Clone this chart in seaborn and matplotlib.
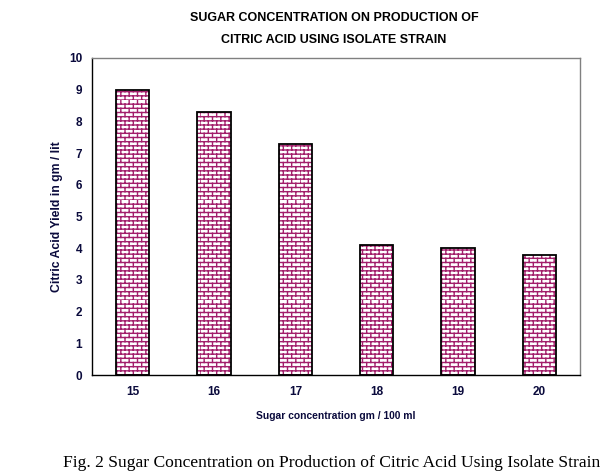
import numpy as np
import pandas as pd
import matplotlib
matplotlib.use('Agg')
import matplotlib.pyplot as plt
import matplotlib.hatch as mhatch
from matplotlib.path import Path
from matplotlib.patches import Rectangle
import seaborn as sns

# data
sugar = ['15', '16', '17', '18', '19', '20']
citric_yield = [9.0, 8.3, 7.3, 4.1, 4.0, 3.8]

title_lines = ['SUGAR CONCENTRATION ON PRODUCTION OF',
               'CITRIC ACID USING ISOLATE STRAIN']
xlabel = 'Sugar concentration gm / 100 ml'
ylabel = 'Citric Acid Yield in gm / lit'
caption = 'Fig. 2 Sugar Concentration on Production of Citric Acid Using Isolate Strain'

brick_color = '#A21F6B'
text_color = '#0A0A3C'


# brick wall hatch, used in place of the normal '+' hatch
class BrickHatch(mhatch.HatchPatternBase):
    def __init__(self, hatch, density):
        self.num_rows = int(hatch.count('+') * density)
        self.num_cols = self.num_rows // 2
        self.num_vertices = 2 * self.num_rows + 2 * self.num_rows * self.num_cols

    def set_vertices_and_codes(self, vertices, codes):
        n, m = self.num_rows, self.num_cols
        h = 1.0 / n
        k = 0
        for i in range(n):
            y = i * h
            vertices[k] = (0.0, y)
            vertices[k + 1] = (1.0, y)
            codes[k] = Path.MOVETO
            codes[k + 1] = Path.LINETO
            k += 2
        for i in range(n):
            off = 0.5 / m if i % 2 else 0.0
            for j in range(m):
                x = j / m + off
                vertices[k] = (x, i * h)
                vertices[k + 1] = (x, (i + 1) * h)
                codes[k] = Path.MOVETO
                codes[k + 1] = Path.LINETO
                k += 2


mhatch._hatch_types[:] = [BrickHatch]

sns.set_style('white')
plt.rcParams['font.family'] = ['Liberation Sans', 'DejaVu Sans']
plt.rcParams['hatch.linewidth'] = 1.0

df = pd.DataFrame({'sugar': sugar, 'yield': citric_yield})

fig = plt.figure(figsize=(6.05, 4.75), dpi=100)
ax = fig.add_axes([0.152, 0.2105, 0.807, 0.6675])

sns.barplot(data=df, x='sugar', y='yield', ax=ax, color='white',
            edgecolor=brick_color, linewidth=0, hatch='++++', width=0.41,
            saturation=1)

# black outline round each bar
for p in list(ax.patches):
    ax.add_patch(Rectangle(p.get_xy(), p.get_width(), p.get_height(),
                           fill=False, edgecolor='black', linewidth=1.3, zorder=3))

ax.set_ylim(0, 10)
ax.set_xlim(-0.5, len(sugar) - 0.5)
ax.set_yticks(range(0, 11))
ax.set_xticks(np.arange(-0.5, len(sugar)), minor=True)
ax.tick_params(axis='x', which='major', length=0, pad=8,
               labelsize=8.5, labelcolor=text_color)
ax.tick_params(axis='x', which='minor', length=5, width=1, color='black',
               direction='out')
ax.tick_params(axis='y', length=5, width=1, color='black', direction='out',
               labelsize=8.5, labelcolor=text_color, pad=2)
for lab in ax.get_xticklabels() + ax.get_yticklabels():
    lab.set_fontweight('bold')

for s in ['left', 'bottom']:
    ax.spines[s].set_color('black')
    ax.spines[s].set_linewidth(1.0)
for s in ['top', 'right']:
    ax.spines[s].set_color('#808080')
    ax.spines[s].set_linewidth(1.0)

ax.set_xlabel(xlabel, fontsize=7.4, fontweight='bold', color=text_color, labelpad=9)
ax.set_ylabel(ylabel, fontsize=8.8, fontweight='bold', color=text_color, labelpad=4)

for line, ypos in zip(title_lines, [0.962, 0.916]):
    fig.text(0.552, ypos, line, ha='center', va='center', fontsize=9,
             fontweight='bold', color='black')
fig.text(0.992, 0.008, caption, ha='right', va='bottom', fontsize=12.6,
         family=['Liberation Serif', 'DejaVu Serif'], color='black')

fig.savefig('out.png', dpi=100)
